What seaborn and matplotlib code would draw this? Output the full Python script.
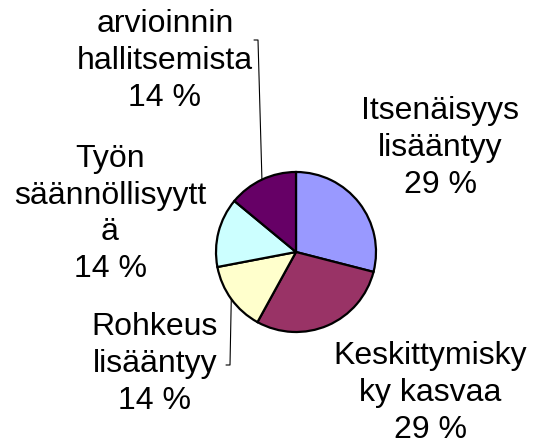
import matplotlib
matplotlib.use("Agg")
import matplotlib.pyplot as plt
import seaborn as sns
import numpy as np

# data
labels = ["Itsenäisyys\nlisääntyy", "Keskittymisky\nky kasvaa", "Rohkeus\nlisääntyy",
          "Työn\nsäännöllisyytt\nä", "arvioinnin\nhallitsemista"]
values = [29, 29, 14, 14, 14]
colors = ["#9999FF", "#993366", "#FFFFCC", "#CCFFFF", "#660066"]

sns.set_theme(style="white")
plt.rcParams['font.family'] = ['Liberation Sans', 'DejaVu Sans']

W, H = 533, 446
fig = plt.figure(figsize=(W / 100, H / 100), dpi=100)
ax = fig.add_axes([0, 0, 1, 1])

cx, cy, r = 296, H - 252, 80
wedges, _ = ax.pie(values, colors=colors, startangle=90, counterclock=False,
                   center=(cx, cy), radius=r,
                   wedgeprops=dict(edgecolor="black", linewidth=1.6))
ax.set_xlim(0, W)
ax.set_ylim(0, H)
ax.axis("off")

# label positions (centre of text block, in pixels from top)
label_pos = [(440, 148), (430, 393), (155, 364), (110, 214), (165, 61)]
for lab, v, (tx, ty) in zip(labels, values, label_pos):
    ax.text(tx, H - ty, f"{lab}\n{v} %", ha="center", va="center",
            fontsize=23, linespacing=1.3, color="black")

# leader lines
def leader(i, pts):
    w = wedges[i]
    ang = np.deg2rad((w.theta1 + w.theta2) / 2)
    ex, ey = cx + r * np.cos(ang), cy + r * np.sin(ang)
    xs = [ex] + [p[0] for p in pts]
    ys = [ey] + [H - p[1] for p in pts]
    ax.plot(xs, ys, color="black", lw=0.8)

leader(4, [(258, 40), (254, 40)])
leader(2, [(230, 365), (226, 365)])

fig.savefig("out.png", dpi=100)
